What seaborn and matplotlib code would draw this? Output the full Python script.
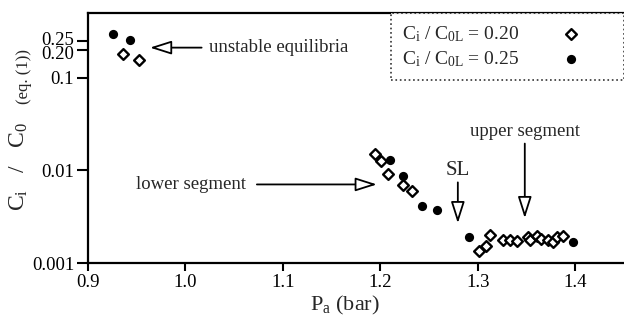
import numpy as np
import pandas as pd
import matplotlib
matplotlib.use('Agg')
import matplotlib.pyplot as plt
import matplotlib.transforms as mtransforms
import seaborn as sns

# C_i / C_0L = 0.20 (open diamonds)
pa_020 = [0.936, 0.952, 1.194, 1.201, 1.208, 1.223, 1.232, 1.301, 1.308, 1.313, 1.326,
          1.333, 1.340, 1.352, 1.354, 1.361, 1.365, 1.372, 1.377, 1.381, 1.387]
ci_020 = [0.18, 0.156, 0.0149, 0.0128, 0.0091, 0.0069, 0.0060, 0.00136, 0.00152, 0.0020, 0.00177,
          0.00177, 0.00175, 0.00192, 0.00177, 0.00197, 0.0018, 0.00177, 0.00169, 0.00189, 0.00197]

# C_i / C_0L = 0.25 (filled circles)
pa_025 = [0.926, 0.943, 1.210, 1.223, 1.243, 1.258, 1.291, 1.398]
ci_025 = [0.30, 0.256, 0.0131, 0.0088, 0.0041, 0.0037, 0.0019, 0.00167]

x_ticks = [0.9, 1.0, 1.1, 1.2, 1.3, 1.4]
x_tick_labels = ['0.9', '1.0', '1.1', '1.2', '1.3', '1.4']
y_ticks = [0.001, 0.01, 0.1, 0.2, 0.25]
y_tick_labels = ['0.001', '0.01', '0.1', '0.20', '0.25']

sns.set_style('ticks')
plt.rcParams['font.family'] = ['Liberation Serif', 'DejaVu Serif']
plt.rcParams['mathtext.fontset'] = 'custom'
plt.rcParams['mathtext.rm'] = 'Liberation Serif'
plt.rcParams['mathtext.it'] = 'Liberation Serif:italic'

df20 = pd.DataFrame({'Pa': pa_020, 'ratio': ci_020})
df25 = pd.DataFrame({'Pa': pa_025, 'ratio': ci_025})

fig = plt.figure(figsize=(6.24, 3.2), dpi=100)
ax = fig.add_axes([0.141, 0.178, 0.859, 0.781])

sns.scatterplot(data=df20, x='Pa', y='ratio', ax=ax, marker='D', s=30,
                facecolor='white', edgecolor='black', linewidth=1.7,
                label=r'$\mathrm{C_i\ /\ C_{0L}}$ = 0.20', zorder=3)
sns.scatterplot(data=df25, x='Pa', y='ratio', ax=ax, marker='o', s=44,
                color='black', edgecolor='black', linewidth=0,
                label=r'$\mathrm{C_i\ /\ C_{0L}}$ = 0.25', zorder=3)

ax.set_yscale('log')
ax.set_xlim(0.9, 1.45)
ax.set_ylim(0.001, 0.5)
ax.set_xticks(x_ticks)
ax.set_xticklabels(x_tick_labels)
ax.set_yticks(y_ticks)
ax.set_yticklabels(y_tick_labels)
ax.minorticks_off()
ax.tick_params(axis='both', labelsize=13.5, width=1.5, color='black', labelcolor='black', pad=2)
ax.tick_params(axis='x', length=6)
ax.tick_params(axis='y', length=8)

# spread the crowded 0.20 / 0.25 labels a little, as in the original
for lab in ax.get_yticklabels():
    if lab.get_text() == '0.25':
        lab.set_transform(lab.get_transform() + mtransforms.ScaledTranslation(0, 2 / 72, fig.dpi_scale_trans))
    elif lab.get_text() == '0.20':
        lab.set_transform(lab.get_transform() + mtransforms.ScaledTranslation(0, -1.5 / 72, fig.dpi_scale_trans))

for side in ['left', 'bottom', 'top']:
    ax.spines[side].set_visible(True)
    ax.spines[side].set_linewidth(1.6)
    ax.spines[side].set_color('black')
ax.spines['right'].set_visible(False)

ax.set_xlabel(r'$\mathrm{P_a}$ (bar)', fontsize=16, labelpad=1)
ax.xaxis.set_label_coords(0.48, -0.125)
ax.set_ylabel('')
fig.text(0.030, 0.48, r'$\mathrm{C_i}$   /   $\mathrm{C_0}$', fontsize=17, rotation=90,
         ha='center', va='center')
fig.text(0.038, 0.762, '(eq. (1))', fontsize=12, rotation=90, ha='center', va='center')

arrow = dict(arrowstyle='-|>,head_length=1.1,head_width=0.35', mutation_scale=12,
             fc='white', ec='black', lw=1.3, shrinkA=0, shrinkB=0)

ax.annotate('', xy=(0.9636, 0.212), xytext=(1.0166, 0.212), arrowprops=arrow)
ax.text(1.024, 0.212, 'unstable equilibria', fontsize=13.5, ha='left', va='center')

ax.annotate('', xy=(1.1964, 0.00706), xytext=(1.0733, 0.00706), arrowprops=arrow)
ax.text(1.062, 0.00706, 'lower segment', fontsize=13.5, ha='right', va='center')

ax.annotate('', xy=(1.2795, 0.00269), xytext=(1.2795, 0.00743), arrowprops=arrow)
ax.text(1.2795, 0.0079, 'SL', fontsize=15, ha='center', va='bottom')

ax.annotate('', xy=(1.3482, 0.00305), xytext=(1.3482, 0.0195), arrowprops=arrow)
ax.text(1.3482, 0.0212, 'upper segment', fontsize=13.5, ha='center', va='bottom')

leg = ax.legend(loc='upper right', bbox_to_anchor=(1.0, 1.0), borderaxespad=0,
                markerfirst=False, fontsize=14, frameon=True, fancybox=False,
                handletextpad=0.45, borderpad=0.55, labelspacing=0.3, handlelength=4.4)
leg.get_frame().set_edgecolor('black')
leg.get_frame().set_linestyle(':')
leg.get_frame().set_linewidth(1.2)

fig.savefig('out.png', dpi=100)
